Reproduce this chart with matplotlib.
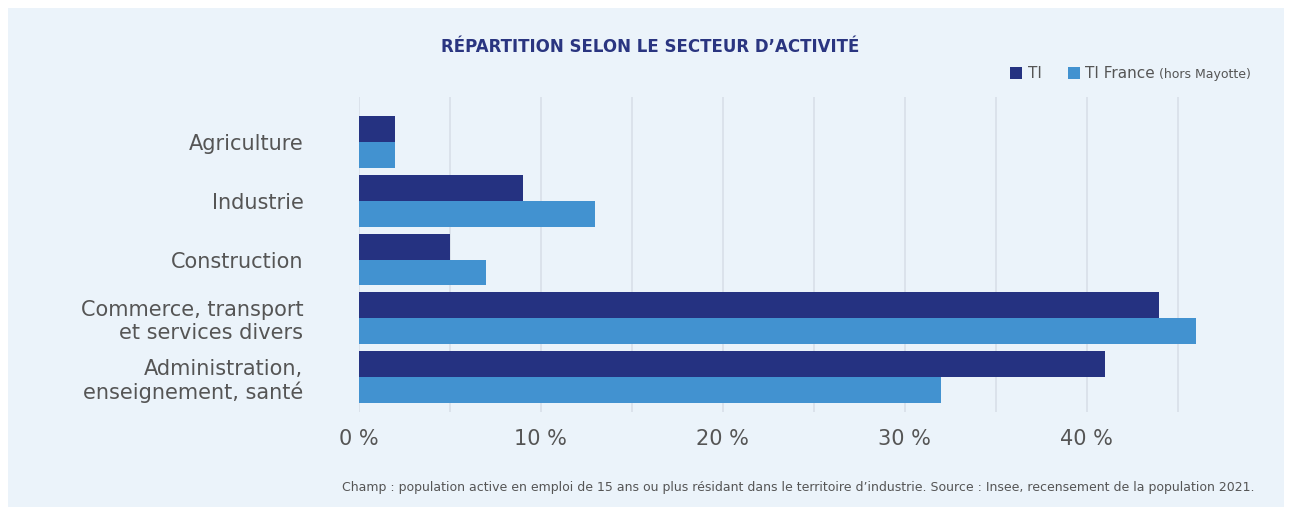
import numpy as np
import matplotlib.pyplot as plt
from matplotlib.patches import Rectangle

# data
categories = ["Agriculture", "Industrie", "Construction",
              "Commerce, transport\net services divers",
              "Administration,\nenseignement, santé"]
ti = [2, 9, 5, 44, 41]
ti_france = [2, 13, 7, 46, 32]
xticks = [0, 10, 20, 30, 40]
xtick_labels = ["0 %", "10 %", "20 %", "30 %", "40 %"]

dark = "#253281"
light = "#4292d0"
bg = "#ebf3fa"
grey = "#555555"

fig = plt.figure(figsize=(12.92, 5.13), dpi=100, facecolor="white")
fig.patches.append(Rectangle((8/1292, 6/513), 1 - 16/1292, 1 - 14/513,
                             transform=fig.transFigure, facecolor=bg,
                             edgecolor="none", zorder=-10))

ax = fig.add_axes([359/1292, 1 - 412/513, (1214 - 359)/1292, (412 - 97)/513])
ax.set_facecolor("none")

y = np.arange(len(categories))
h = 0.44
ax.barh(y - h/2, ti, height=h, color=dark, zorder=3)
ax.barh(y + h/2, ti_france, height=h, color=light, zorder=3)

ax.set_xlim(0, 47)
ax.set_ylim(4.59, -0.76)
for g in np.arange(0, 46, 5):
    ax.axvline(g, color="#dae1ea", lw=1.3, zorder=1)

ax.set_yticks(y)
ax.set_yticklabels(categories, fontsize=15, color=grey, ha="right",
                   linespacing=1.15)
ax.set_xticks(xticks)
ax.set_xticklabels(xtick_labels, fontsize=15, color=grey)
ax.tick_params(axis="y", length=0, pad=40)
ax.tick_params(axis="x", length=0, pad=12)
for s in ax.spines.values():
    s.set_visible(False)

fig.text(650/1292, 1 - 47/513, "RÉPARTITION SELON LE SECTEUR D’ACTIVITÉ",
         ha="center", va="center", fontsize=12, fontweight="bold", color="#2a3580")

# legend
ly = 1 - 73/513
fig.patches.append(Rectangle((1010/1292, ly - 6/513), 12/1292, 12/513,
                             transform=fig.transFigure, facecolor=dark))
fig.text(1028/1292, ly, "TI", ha="left", va="center", fontsize=11, color=grey)
fig.patches.append(Rectangle((1068/1292, ly - 6/513), 12/1292, 12/513,
                             transform=fig.transFigure, facecolor=light))
fig.text(1085/1292, ly, "TI France", ha="left", va="center", fontsize=11, color=grey)
fig.text(1159/1292, ly - 1/513, "(hors Mayotte)", ha="left", va="center",
         fontsize=9, color=grey)

fig.text(1255/1292, 1 - 487/513,
         "Champ : population active en emploi de 15 ans ou plus résidant dans le territoire d’industrie. "
         "Source : Insee, recensement de la population 2021.",
         ha="right", va="center", fontsize=9, color=grey)

fig.savefig("out.png", dpi=100, facecolor="white")
